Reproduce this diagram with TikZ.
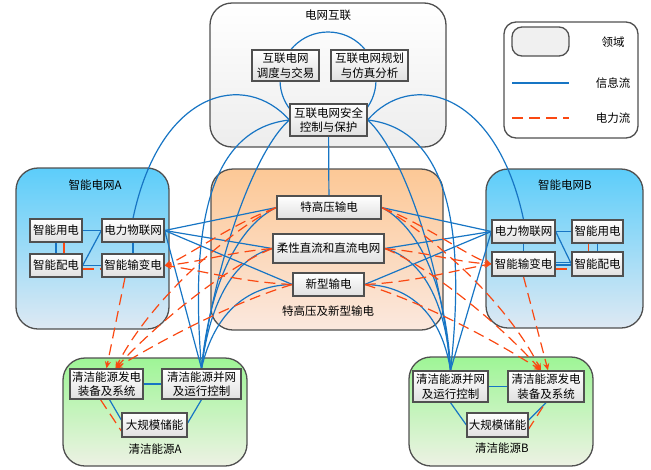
\documentclass[tikz,border=0pt]{standalone}
\usepackage{fontspec}
\setmainfont{Liberation Serif}
\newfontfamily\cjk{Noto Sans CJK SC}
\usetikzlibrary{arrows.meta}
\pgfdeclarelayer{bg}
\pgfdeclarelayer{lines}
\pgfsetlayers{bg,lines,main}
\definecolor{bl}{RGB}{23,117,196}
\definecolor{rd}{RGB}{250,72,18}
\definecolor{bd}{RGB}{80,80,80}
\tikzset{
  box/.style={draw=bd, line width=1.3pt, top color=white, bottom color=black!12, inner sep=0pt, align=center, font=\cjk\fontsize{11.5}{14.5}\selectfont},
  region/.style={draw=bd, line width=1.3pt, rounded corners=22pt},
  rlabel/.style={font=\cjk\fontsize{11.5}{14}\selectfont, inner sep=0pt},
  info/.style={draw=bl, line width=1.2pt},
  power/.style={draw=rd, line width=1.2pt, dash pattern=on 11pt off 6pt},
  parr/.style={power, -{Stealth[length=7pt,width=6pt]}},
}
\begin{document}
\begin{tikzpicture}[x=1pt,y=-1pt]
\useasboundingbox (0,0) rectangle (651,469);
% ---------- regions ----------
\begin{pgfonlayer}{bg}
\path[region, top color=white, bottom color=black!7] (210,3) rectangle (446,147);
\path[region, top color={rgb,255:red,92;green,205;blue,250}, bottom color={rgb,255:red,222;green,233;blue,243}] (16,168) rectangle (169,329);
\path[region, top color={rgb,255:red,252;green,200;blue,150}, bottom color={rgb,255:red,251;green,232;blue,222}] (211,169) rectangle (443,330);
\path[region, top color={rgb,255:red,92;green,205;blue,250}, bottom color={rgb,255:red,222;green,233;blue,243}] (486,169) rectangle (643,328);
\path[region, top color={rgb,255:red,158;green,245;blue,150}, bottom color={rgb,255:red,237;green,242;blue,228}] (63,358) rectangle (247,466);
\path[region, top color={rgb,255:red,158;green,245;blue,150}, bottom color={rgb,255:red,237;green,242;blue,228}] (409,357) rectangle (593,466);
% legend
\path[draw=bd, line width=1.3pt, rounded corners=12pt, fill=white] (504,22) rectangle (638,138);
\path[draw=bd, line width=1.3pt, rounded corners=10pt, fill=black!6] (512,27) rectangle (569,56);
\end{pgfonlayer}
\node[rlabel] (lbtop) at (328,15) {电网互联};
\node[rlabel] (lbA) at (95,185) {{\cjk 智能电网}A};
\node[rlabel] (lbB) at (565,185) {{\cjk 智能电网}B};
\node[rlabel] (lbC) at (328,311) {特高压及新型输电};
\node[rlabel] (lbGA) at (155,449) {{\cjk 清洁能源}A};
\node[rlabel] (lbGB) at (502,448) {{\cjk 清洁能源}B};
\node[rlabel] (lg1) at (613,42) {领域};
\node[rlabel] (lg2) at (613,83) {信息流};
\node[rlabel] (lg3) at (613,118) {电力流};
\coordinate (la1) at (512,83); \coordinate (la2) at (569,83);
\coordinate (lb1) at (512,118); \coordinate (lb2) at (569,118);
% ---------- nodes ----------
\node[box, minimum width=67pt, minimum height=31pt] (disp) at (285.5,65.5) {互联电网\\调度与交易};
\node[box, minimum width=77pt, minimum height=31pt] (plan) at (369.5,65.5) {互联电网规划\\与仿真分析};
\node[box, minimum width=77pt, minimum height=32pt] (safe) at (328.5,120) {互联电网安全\\控制与保护};
\node[box, minimum width=52pt, minimum height=23pt] (useA) at (56,230.5) {智能用电};
\node[box, minimum width=62pt, minimum height=23pt] (iotA) at (133,230.5) {电力物联网};
\node[box, minimum width=52pt, minimum height=23pt] (distA) at (56,265.5) {智能配电};
\node[box, minimum width=62pt, minimum height=23pt] (tA) at (133,265.5) {智能输变电};
\node[box, minimum width=63pt, minimum height=23pt] (iotB) at (523.5,231.5) {电力物联网};
\node[box, minimum width=51pt, minimum height=23pt] (useB) at (597.5,231.5) {智能用电};
\node[box, minimum width=63pt, minimum height=24pt] (tB) at (523.5,264) {智能输变电};
\node[box, minimum width=51pt, minimum height=24pt] (distB) at (597.5,264) {智能配电};
\node[box, minimum width=104pt, minimum height=23pt] (uhv) at (329,207.5) {特高压输电};
\node[box, minimum width=111pt, minimum height=29pt] (flex) at (328.5,248.5) {柔性直流和直流电网};
\node[box, minimum width=71pt, minimum height=23pt] (new) at (328.5,284.5) {新型输电};
\node[box, minimum width=73pt, minimum height=30pt] (genA) at (106.5,384) {清洁能源发电\\装备及系统};
\node[box, minimum width=79pt, minimum height=30pt] (gridA) at (201.5,384) {清洁能源并网\\及运行控制};
\node[box, minimum width=65pt, minimum height=24pt] (storA) at (154.5,425) {大规模储能};
\node[box, minimum width=75pt, minimum height=31pt] (gridB) at (450.5,386.5) {清洁能源并网\\及运行控制};
\node[box, minimum width=76pt, minimum height=31pt] (genB) at (546,386.5) {清洁能源发电\\装备及系统};
\node[box, minimum width=61pt, minimum height=24pt] (storB) at (497.5,425) {大规模储能};
% ---------- connectors ----------
\begin{pgfonlayer}{lines}
% legend lines
\draw[info] (la1) -- (la2);
\draw[power] (lb1) -- (lb2);
% top circle
\draw[info] (328,80) circle (48pt);
\draw[info] (safe) -- (uhv);
\draw[info] (safe.west) .. controls (245,70) and (160,90) .. (iotA.north);
\draw[info] (safe.east) .. controls (411,70) and (496,90) .. (iotB.north);
\draw[info] (safe.west) .. controls (200,130) and (192,250) .. (gridA.north);
\draw[info] (safe.west) .. controls (255,150) and (215,260) .. (gridA.north);
\draw[info] (safe.east) .. controls (456,130) and (464,250) .. (gridB.north);
\draw[info] (safe.east) .. controls (401,150) and (441,260) .. (gridB.north);
% left region internal
\draw[info] (useA) -- (iotA);
\draw[info] (iotA) -- (tA);
\draw[info] (iotA.west) -- (distA.east);
\draw[info] (distA) -- (tA);
\draw[info] (useA.south) -- (distA.north);
\draw[power] ([xshift=8pt]useA.south) -- ([xshift=8pt]distA.north);
\draw[power] ([yshift=-3.5pt]distA.east) -- ([yshift=-3.5pt]tA.west);
% right region internal
\draw[info] (iotB) -- (useB);
\draw[info] (iotB) -- (tB);
\draw[info] (iotB.east) -- (distB.west);
\draw[info] ([yshift=1.5pt]tB.east) -- ([yshift=1.5pt]distB.west);
\draw[info] ([yshift=-1pt]tB.east) -- ([yshift=-1pt]distB.west);
\draw[info] (useB) -- (distB);
\draw[power] ([xshift=-9pt]useB.south) -- ([xshift=-9pt]distB.north);
\draw[power] ([yshift=-5pt]tB.east) -- ([yshift=-5pt]distB.west);
% iot to center
\draw[info] (iotA.east) -- (uhv.west);
\draw[info] (iotA.east) -- (flex.west);
\draw[info] (iotA.east) -- (new.west);
\draw[info] (iotB.west) -- (uhv.east);
\draw[info] (iotB.west) -- (flex.east);
\draw[info] (iotB.west) -- (new.east);
\draw[info] (iotA.east) -- (gridA.north);
\draw[info] (iotB.west) -- (gridB.north);
% center to clean energy grid
\draw[info] (uhv.west) .. controls (240,225) and (210,280) .. (gridA.north);
\draw[info] (flex.west) .. controls (235,258) and (210,300) .. (gridA.north);
\draw[info] (new.west) .. controls (250,285) and (215,310) .. (gridA.north);
\draw[info] (uhv.east) .. controls (416,225) and (446,280) .. (gridB.north);
\draw[info] (flex.east) .. controls (421,258) and (446,300) .. (gridB.north);
\draw[info] (new.east) .. controls (406,285) and (441,310) .. (gridB.north);
% bottom internal
\draw[info] (genA) -- (gridA);
\draw[info] ([xshift=3pt]genA.south) -- ([yshift=5pt]storA.west);
\draw[info] (gridA.south) -- ([yshift=2pt]storA.east);
\draw[power] ([xshift=-6pt]genA.south) -- ([yshift=-6pt]storA.west);
\draw[info] (gridB) -- (genB);
\draw[info] (gridB.south) -- (storB.west);
\draw[info] (genB.south) -- ([yshift=5pt]storB.east);
\draw[power] ([xshift=-3pt,yshift=-4pt]genB.south) -- ([yshift=-4pt]storB.east);
% power: center -> smart grid transmission
\draw[parr] (uhv.west) .. controls (230,225) and (190,255) .. (tA.east);
\draw[parr] (flex.west) .. controls (230,252) and (200,262) .. (tA.east);
\draw[parr] (new.west) .. controls (240,282) and (200,270) .. (tA.east);
\draw[parr] (uhv.east) .. controls (426,225) and (466,255) .. (tB.west);
\draw[parr] (flex.east) .. controls (426,252) and (456,262) .. (tB.west);
\draw[parr] (new.east) .. controls (416,282) and (456,270) .. (tB.west);
% power: center -> clean energy generation
\draw[parr] (uhv.west) .. controls (230,230) and (150,300) .. ([xshift=9pt]genA.north);
\draw[parr] (flex.west) .. controls (230,265) and (160,320) .. ([xshift=9pt]genA.north);
\draw[parr] (new.west) .. controls (240,300) and (170,335) .. ([xshift=9pt]genA.north);
\draw[parr] (uhv.east) .. controls (426,230) and (506,300) .. ([xshift=-5pt]genB.north);
\draw[parr] (flex.east) .. controls (426,265) and (496,320) .. ([xshift=-5pt]genB.north);
\draw[parr] (new.east) .. controls (416,300) and (486,335) .. ([xshift=-5pt]genB.north);
\draw[parr] ([xshift=-8pt]tA.south) -- (genA.north);
\draw[parr] (tB.south) -- ([xshift=2pt]genB.north);
\end{pgfonlayer}
\end{tikzpicture}
\end{document}
